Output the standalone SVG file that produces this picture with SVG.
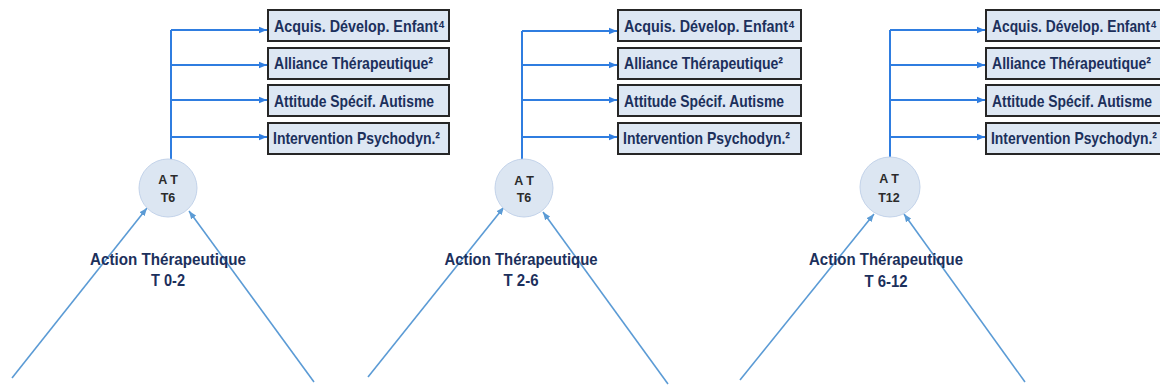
<svg xmlns="http://www.w3.org/2000/svg" width="1160" height="387" viewBox="0 0 1160 387">
<style>
.tree{stroke:#2f7de0;stroke-width:2;fill:none}
.in{stroke:#5b9bd5;stroke-width:1.6;fill:none}
.box{fill:#dde7f3;stroke:#262626;stroke-width:2}
.bt{font-family:"Liberation Sans",Arial,"DejaVu Sans",sans-serif;font-weight:bold;font-size:17px;fill:#1c305c}
.circ{fill:#dce6f2;stroke:#c3d3ea;stroke-width:1}
.ct{font-family:"Liberation Sans",Arial,sans-serif;font-weight:bold;font-size:12.5px;fill:#2b2b2b;text-anchor:middle}
.lab{font-family:"Liberation Sans",Arial,sans-serif;font-weight:bold;font-size:17px;fill:#1c305c;text-anchor:middle}
</style>
<defs>
<marker id="ah" viewBox="0 0 10 10" refX="10" refY="5" markerWidth="4" markerHeight="4" orient="auto" markerUnits="strokeWidth"><path d="M0,1 L10,5 L0,9 z" fill="#2f7de0"/></marker>
<marker id="ah2" viewBox="0 0 10 10" refX="10" refY="5" markerWidth="5" markerHeight="5" orient="auto" markerUnits="strokeWidth"><path d="M0,1 L10,5 L0,9 z" fill="#5b9bd5"/></marker>
</defs>
<g id="connectors">
<path class="tree" d="M171,160 V30"/>
<path class="tree" d="M171,30 H267" marker-end="url(#ah)"/>
<path class="tree" d="M171,65 H267" marker-end="url(#ah)"/>
<path class="tree" d="M171,100 H267" marker-end="url(#ah)"/>
<path class="tree" d="M171,137 H267" marker-end="url(#ah)"/>
<path class="tree" d="M522,160 V31"/>
<path class="tree" d="M522,31 H617" marker-end="url(#ah)"/>
<path class="tree" d="M522,65 H617" marker-end="url(#ah)"/>
<path class="tree" d="M522,100 H617" marker-end="url(#ah)"/>
<path class="tree" d="M522,137 H617" marker-end="url(#ah)"/>
<path class="tree" d="M890,158 V30"/>
<path class="tree" d="M890,30 H985" marker-end="url(#ah)"/>
<path class="tree" d="M890,65 H985" marker-end="url(#ah)"/>
<path class="tree" d="M890,100 H985" marker-end="url(#ah)"/>
<path class="tree" d="M890,137 H985" marker-end="url(#ah)"/>
<path class="in" d="M12,378 L147,208" marker-end="url(#ah2)"/>
<path class="in" d="M314,382 L189,211" marker-end="url(#ah2)"/>
<path class="in" d="M368,377 L504,207" marker-end="url(#ah2)"/>
<path class="in" d="M668,384 L543,212" marker-end="url(#ah2)"/>
<path class="in" d="M740,380 L874,214" marker-end="url(#ah2)"/>
<path class="in" d="M1025,382 L904,214" marker-end="url(#ah2)"/>
</g>
<g id="boxes1">
<rect class="box" x="268" y="10" width="181" height="31"/>
<text class="bt" x="274" y="32" textLength="171" lengthAdjust="spacingAndGlyphs">Acquis. Dévelop. Enfant⁴</text>
<rect class="box" x="268" y="48" width="181" height="31"/>
<text class="bt" x="274" y="69" textLength="159" lengthAdjust="spacingAndGlyphs">Alliance Thérapeutique²</text>
<rect class="box" x="268" y="85" width="181" height="31"/>
<text class="bt" x="274" y="107" textLength="160" lengthAdjust="spacingAndGlyphs">Attitude Spécif. Autisme</text>
<rect class="box" x="268" y="123" width="181" height="31"/>
<text class="bt" x="273" y="144" textLength="167" lengthAdjust="spacingAndGlyphs">Intervention Psychodyn.²</text>
</g>
<g id="boxes2">
<rect class="box" x="618" y="10" width="183" height="31"/>
<text class="bt" x="624" y="32" textLength="171" lengthAdjust="spacingAndGlyphs">Acquis. Dévelop. Enfant⁴</text>
<rect class="box" x="618" y="48" width="183" height="31"/>
<text class="bt" x="624" y="69" textLength="159" lengthAdjust="spacingAndGlyphs">Alliance Thérapeutique²</text>
<rect class="box" x="618" y="85" width="183" height="31"/>
<text class="bt" x="624" y="107" textLength="160" lengthAdjust="spacingAndGlyphs">Attitude Spécif. Autisme</text>
<rect class="box" x="618" y="123" width="183" height="31"/>
<text class="bt" x="623" y="144" textLength="167" lengthAdjust="spacingAndGlyphs">Intervention Psychodyn.²</text>
</g>
<g id="boxes3">
<rect class="box" x="986" y="10" width="183" height="31"/>
<text class="bt" x="992" y="32" textLength="165" lengthAdjust="spacingAndGlyphs">Acquis. Dévelop. Enfant⁴</text>
<rect class="box" x="986" y="48" width="183" height="31"/>
<text class="bt" x="992" y="69" textLength="159" lengthAdjust="spacingAndGlyphs">Alliance Thérapeutique²</text>
<rect class="box" x="986" y="85" width="183" height="31"/>
<text class="bt" x="992" y="107" textLength="160" lengthAdjust="spacingAndGlyphs">Attitude Spécif. Autisme</text>
<rect class="box" x="986" y="123" width="183" height="31"/>
<text class="bt" x="991" y="144" textLength="166" lengthAdjust="spacingAndGlyphs">Intervention Psychodyn.²</text>
</g>
<g id="node1">
<circle class="circ" cx="168" cy="188" r="29"/>
<text class="ct" x="168" y="184">A T</text>
<text class="ct" x="168" y="202">T6</text>
</g>
<g id="node2">
<circle class="circ" cx="524" cy="188" r="29"/>
<text class="ct" x="524" y="185">A T</text>
<text class="ct" x="524" y="202">T6</text>
</g>
<g id="node3">
<circle class="circ" cx="890" cy="187" r="30"/>
<text class="ct" x="889" y="183">A T</text>
<text class="ct" x="889" y="202">T12</text>
</g>
<g id="label1">
<text class="lab" x="168" y="265" textLength="156" lengthAdjust="spacingAndGlyphs">Action Thérapeutique</text>
<text class="lab" x="168" y="286" textLength="34" lengthAdjust="spacingAndGlyphs">T 0-2</text>
</g>
<g id="label2">
<text class="lab" x="521" y="265" textLength="153" lengthAdjust="spacingAndGlyphs">Action Thérapeutique</text>
<text class="lab" x="521" y="286" textLength="35" lengthAdjust="spacingAndGlyphs">T 2-6</text>
</g>
<g id="label3">
<text class="lab" x="886" y="265" textLength="154" lengthAdjust="spacingAndGlyphs">Action Thérapeutique</text>
<text class="lab" x="886" y="287" textLength="43" lengthAdjust="spacingAndGlyphs">T 6-12</text>
</g>
</svg>
